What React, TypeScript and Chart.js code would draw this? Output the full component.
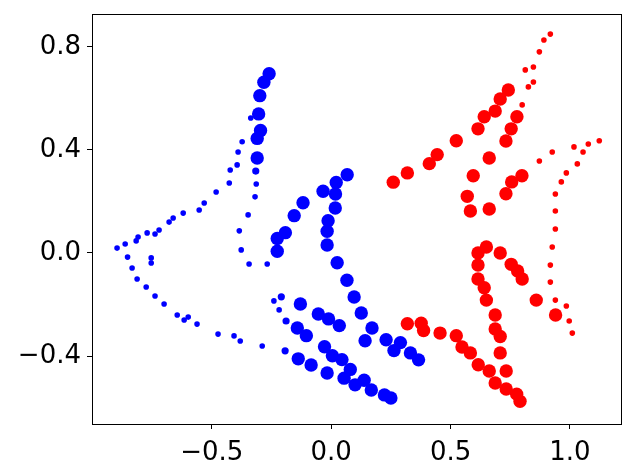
import React, { useEffect, useRef } from "react";
import { Chart, registerables } from "chart.js";

Chart.register(...registerables);

const blueLarge: [number, number][] = [
  [-0.26, 0.696], [-0.282, 0.663], [-0.299, 0.611], [-0.304, 0.54], [-0.296, 0.476],
  [-0.31, 0.445], [-0.31, 0.369], [0.067, 0.304], [0.021, 0.274], [-0.034, 0.24],
  [0.018, 0.229], [-0.118, 0.195], [0.017, 0.175], [-0.155, 0.145], [-0.013, 0.125],
  [-0.192, 0.079], [-0.017, 0.084], [-0.226, 0.056], [-0.017, 0.031], [-0.226, 0.007],
  [0.025, -0.038], [0.066, -0.106], [0.096, -0.171], [0.126, -0.233], [0.171, -0.291],
  [0.142, -0.341], [0.23, -0.337], [0.29, -0.348], [0.263, -0.379], [0.332, -0.388],
  [0.366, -0.415], [-0.129, -0.198], [-0.054, -0.237], [-0.011, -0.256], [0.034, -0.282],
  [-0.142, -0.291], [-0.104, -0.321], [-0.028, -0.364], [0.005, -0.399], [0.045, -0.414],
  [0.08, -0.452], [-0.138, -0.411], [-0.084, -0.435], [-0.017, -0.466], [0.054, -0.486],
  [0.138, -0.494], [0.1, -0.512], [0.168, -0.532], [0.223, -0.551], [0.25, -0.563],
];

const blueMedium: [number, number][] = [
  [-0.316, 0.318], [-0.209, -0.17], [-0.189, -0.264], [-0.193, -0.38],
];

const blueSmall: [number, number][] = [
  [-0.337, 0.524], [-0.373, 0.432], [-0.39, 0.392], [-0.394, 0.342], [-0.423, 0.322],
  [-0.314, 0.268], [-0.427, 0.272], [-0.319, 0.218], [-0.482, 0.237], [-0.532, 0.194],
  [-0.553, 0.167], [-0.62, 0.155], [-0.662, 0.136], [-0.679, 0.12], [-0.348, 0.148],
  [-0.721, 0.089], [-0.738, 0.074], [-0.771, 0.078], [-0.809, 0.062], [-0.817, 0.047],
  [-0.863, 0.035], [-0.897, 0.019], [-0.385, 0.086], [-0.377, 0.012], [-0.344, -0.043],
  [-0.268, -0.043], [-0.853, -0.016], [-0.754, -0.019], [-0.754, -0.039], [-0.834, -0.058],
  [-0.813, -0.101], [-0.775, -0.132], [-0.738, -0.167], [-0.7, -0.198], [-0.24, -0.186],
  [-0.218, -0.221], [-0.645, -0.241], [-0.616, -0.26], [-0.599, -0.249], [-0.562, -0.276],
  [-0.474, -0.315], [-0.407, -0.322], [-0.381, -0.342], [-0.289, -0.361],
];

const redLarge: [number, number][] = [
  [0.26, 0.275], [0.319, 0.311], [0.411, 0.347], [0.444, 0.382], [0.524, 0.436],
  [0.615, 0.482], [0.641, 0.529], [0.687, 0.551], [0.708, 0.598], [0.742, 0.633],
  [0.778, 0.529], [0.754, 0.482], [0.732, 0.435], [0.662, 0.369], [0.595, 0.3],
  [0.799, 0.3], [0.756, 0.276], [0.732, 0.23], [0.57, 0.22], [0.583, 0.163],
  [0.662, 0.171], [0.65, 0.023], [0.615, 0.0], [0.708, 0.0], [0.615, -0.047],
  [0.754, -0.044], [0.781, -0.07], [0.8, -0.101], [0.615, -0.101], [0.641, -0.135],
  [0.65, -0.183], [0.859, -0.183], [0.94, -0.241], [0.687, -0.241], [0.687, -0.295],
  [0.708, -0.324], [0.708, -0.388], [0.733, -0.458], [0.319, -0.275], [0.377, -0.273],
  [0.387, -0.301], [0.456, -0.311], [0.524, -0.321], [0.548, -0.365], [0.583, -0.388],
  [0.616, -0.434], [0.662, -0.458], [0.687, -0.505], [0.733, -0.528], [0.777, -0.548],
  [0.791, -0.576],
];

const redSmall: [number, number][] = [
  [0.918, 0.85], [0.891, 0.827], [0.872, 0.781], [0.813, 0.711], [0.847, 0.722],
  [0.847, 0.664], [0.826, 0.645], [0.8, 0.575], [1.123, 0.436], [1.077, 0.423],
  [1.017, 0.412], [1.055, 0.392], [0.926, 0.392], [0.872, 0.357], [1.031, 0.346],
  [0.985, 0.311], [0.964, 0.276], [0.939, 0.229], [0.939, 0.163], [0.939, 0.093],
  [0.926, 0.023], [0.918, -0.047], [0.918, -0.113], [0.939, -0.183], [0.985, -0.206],
  [0.997, -0.264], [1.01, -0.311],
];

const xTicks = [-0.5, 0.0, 0.5, 1.0];
const yTicks = [-0.4, 0.0, 0.4, 0.8];

const BLUE = "#0000ff";
const RED = "#ff0000";

const toPts = (arr: [number, number][]) => arr.map(([x, y]) => ({ x, y }));

const framePlugin = {
  id: "frame",
  afterDraw(chart: any) {
    const { ctx, chartArea } = chart;
    ctx.save();
    ctx.strokeStyle = "#000";
    ctx.lineWidth = 1;
    ctx.strokeRect(
      Math.round(chartArea.left) + 0.5,
      Math.round(chartArea.top) + 0.5,
      Math.round(chartArea.right - chartArea.left),
      Math.round(chartArea.bottom - chartArea.top)
    );
    ctx.restore();
  },
};

const fmt = (v: number) => {
  const s = Number(v).toFixed(1);
  return s.replace("-", "\u2212");
};

const FONT = { family: "'DejaVu Sans', sans-serif", size: 26 };

const zeroPad = (scale: any) => {
  scale.paddingTop = 0;
  scale.paddingBottom = 0;
  scale.paddingLeft = 0;
  scale.paddingRight = 0;
};

export default function App() {
  const ref = useRef<HTMLCanvasElement | null>(null);
  useEffect(() => {
    if (!ref.current) return;
    const mk = (data: [number, number][], color: string, r: number) => ({
      data: toPts(data),
      backgroundColor: color,
      borderColor: color,
      borderWidth: 0,
      pointRadius: r,
      pointHoverRadius: r,
    });
    const chart = new Chart(ref.current, {
      type: "scatter",
      data: {
        datasets: [
          mk(blueLarge, BLUE, 6.7),
          mk(blueMedium, BLUE, 3.6),
          mk(blueSmall, BLUE, 2.8),
          mk(redLarge, RED, 6.7),
          mk(redSmall, RED, 2.8),
        ] as any,
      },
      options: {
        animation: false,
        responsive: false,
        devicePixelRatio: 1,
        layout: { padding: { top: 14, right: 19, left: 0, bottom: 0 } },
        plugins: { legend: { display: false }, tooltip: { enabled: false } },
        scales: {
          x: {
            type: "linear",
            min: -1.002,
            max: 1.214,
            afterBuildTicks: (axis: any) => {
              axis.ticks = xTicks.map((v) => ({ value: v }));
            },
            afterFit: (scale: any) => {
              scale.height = 52;
              zeroPad(scale);
            },
            grid: {
              display: true,
              drawOnChartArea: false,
              drawTicks: true,
              tickLength: 5,
              color: "#000",
              lineWidth: 1,
            },
            border: { display: true, color: "#000", width: 1 },
            ticks: {
              color: "#000",
              padding: 9,
              font: FONT,
              maxRotation: 0,
              autoSkip: false,
              callback: (v: any) => fmt(v),
            },
          },
          y: {
            type: "linear",
            min: -0.664,
            max: 0.928,
            afterBuildTicks: (axis: any) => {
              axis.ticks = yTicks.map((v) => ({ value: v }));
            },
            afterFit: (scale: any) => {
              scale.width = 92;
              zeroPad(scale);
            },
            grid: {
              display: true,
              drawOnChartArea: false,
              drawTicks: true,
              tickLength: 5,
              color: "#000",
              lineWidth: 1,
            },
            border: { display: true, color: "#000", width: 1 },
            ticks: {
              color: "#000",
              padding: 6,
              font: FONT,
              autoSkip: false,
              callback: (v: any) => fmt(v),
            },
          },
        },
      } as any,
      plugins: [framePlugin],
    });
    return () => chart.destroy();
  }, []);
  return (
    <div style={{ position: "absolute", left: 0, top: 0, width: 640, height: 476, background: "#fff" }}>
      <canvas ref={ref} width={640} height={476} style={{ width: 640, height: 476, display: "block" }} />
    </div>
  );
}
